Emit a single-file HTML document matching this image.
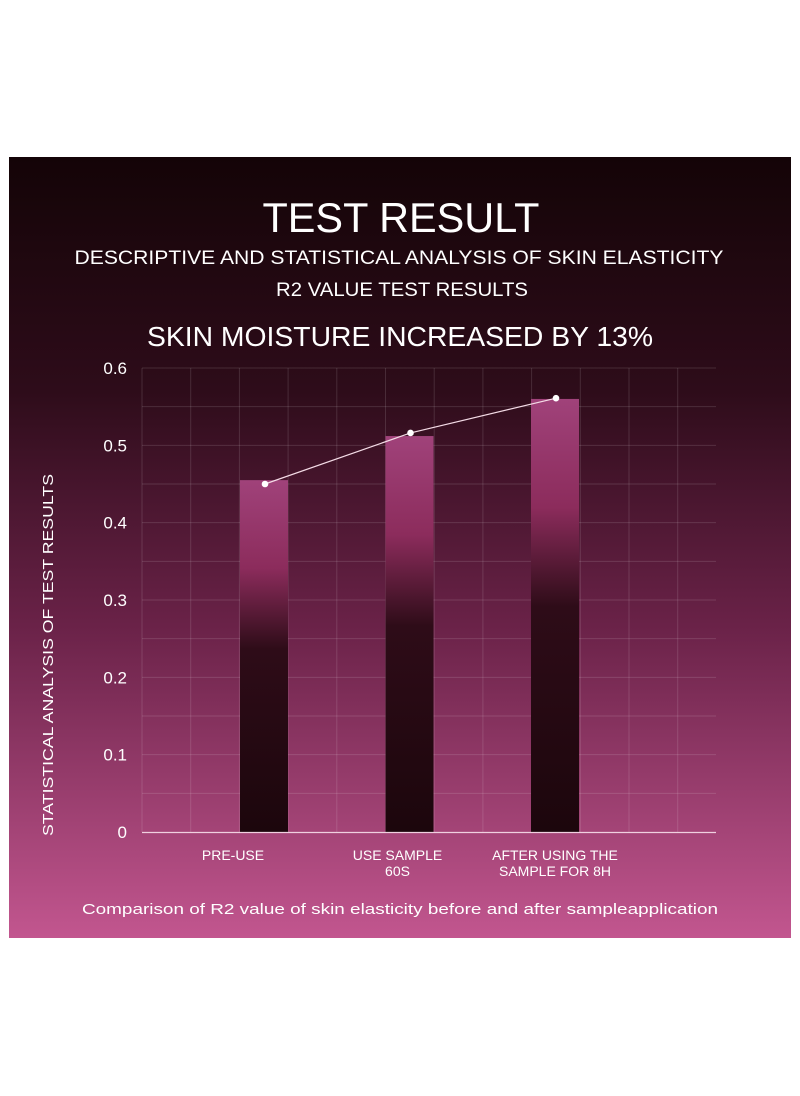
<!DOCTYPE html>
<html><head><meta charset="utf-8"><style>
html,body{margin:0;padding:0;background:#fff;width:800px;height:1096px;overflow:hidden}
svg{display:block;font-family:"Liberation Sans",sans-serif}
</style></head><body>
<svg id="chart" width="800" height="1096" viewBox="0 0 800 1096" xmlns="http://www.w3.org/2000/svg">
<defs>
<linearGradient id="bg" x1="0" y1="0" x2="0" y2="1">
<stop offset="0" stop-color="#140407"/><stop offset="0.3" stop-color="#2e0c1a"/><stop offset="0.6" stop-color="#6a2248"/><stop offset="1" stop-color="#c2568f"/>
</linearGradient>
<linearGradient id="barg" x1="0" y1="0" x2="0" y2="1">
<stop offset="0" stop-color="#a0427a"/><stop offset="0.25" stop-color="#8c2c5c"/><stop offset="0.48" stop-color="#2e0c18"/><stop offset="1" stop-color="#1c060c"/>
</linearGradient>
</defs>
<rect x="9" y="157" width="782" height="781" fill="url(#bg)"/>
<g fill="#fff">
<text x="401" y="232" font-size="42" text-anchor="middle" textLength="277" lengthAdjust="spacingAndGlyphs">TEST RESULT</text>
<text x="399" y="264" font-size="19" text-anchor="middle" textLength="649" lengthAdjust="spacingAndGlyphs">DESCRIPTIVE AND STATISTICAL ANALYSIS OF SKIN ELASTICITY</text>
<text x="402" y="296" font-size="19" text-anchor="middle" textLength="252" lengthAdjust="spacingAndGlyphs">R2 VALUE TEST RESULTS</text>
<text x="400" y="346" font-size="28" text-anchor="middle" textLength="506" lengthAdjust="spacingAndGlyphs">SKIN MOISTURE INCREASED BY 13%</text>
<text transform="translate(53,655) rotate(-90)" font-size="15" text-anchor="middle" textLength="362" lengthAdjust="spacingAndGlyphs">STATISTICAL ANALYSIS OF TEST RESULTS</text>
<text x="400" y="914" font-size="15" text-anchor="middle" textLength="636" lengthAdjust="spacingAndGlyphs">Comparison of R2 value of skin elasticity before and after sampleapplication</text>
</g>
<g id="grid"></g>
<g id="bars"></g>
<g id="axes"></g>
<g id="line"></g>
</svg>
<script>
const categories = [["PRE-USE"], ["USE SAMPLE", "60S"], ["AFTER USING THE", "SAMPLE FOR 8H"]];
const barValues = [0.455, 0.512, 0.56];
const pointValues = [0.45, 0.516, 0.561];
const yTicks = [0, 0.1, 0.2, 0.3, 0.4, 0.5, 0.6];
const yTickLabels = ["0", "0.1", "0.2", "0.3", "0.4", "0.5", "0.6"];
const NS = "http://www.w3.org/2000/svg";
const x0 = 142, x1 = 716, yBase = 832, yTop = 368, yMax = 0.6;
const gridStep = 48.7;
function y(v){ return yBase - v / yMax * (yBase - yTop); }
const slotX = i => 264 + i * 145.5;
const barW = 48;
function mk(tag, attrs, parent){ const e = document.createElementNS(NS, tag); for (const k in attrs) e.setAttribute(k, attrs[k]); parent.appendChild(e); return e; }
const grid = document.getElementById('grid');
for (let gx = x0; gx <= 690; gx += gridStep) {
  const l = mk('line', {x1: gx, x2: gx, y1: yTop, y2: yBase, stroke: '#ffffff', 'stroke-opacity': 0.13, 'stroke-width': 1}, grid);
  
  
}
for (let v = 0.05; v <= yMax + 1e-9; v += 0.05) {
  const l = mk('line', {x1: x0, x2: x1, y1: y(v), y2: y(v), stroke: '#ffffff', 'stroke-opacity': 0.13, 'stroke-width': 1}, grid);
  
  
}
const bars = document.getElementById('bars');
barValues.forEach((v, i) => {
  const r = mk('rect', {x: slotX(i) - barW / 2, y: y(v), width: barW, height: yBase - y(v), fill: 'url(#barg)'}, bars);
  
  
});
const axes = document.getElementById('axes');
const ax = mk('line', {x1: x0, x2: x1, y1: yBase + 0.5, y2: yBase + 0.5, stroke: '#f0d0e0', 'stroke-width': 1.2}, axes);


yTicks.forEach((v, i) => {
  const t = mk('text', {x: 127, y: y(v) + 6, 'font-size': 17, fill: '#fff', 'text-anchor': 'end'}, axes);
  t.textContent = yTickLabels[i];
  
  
});
categories.forEach((lines, i) => {
  lines.forEach((s, j) => {
    const t = mk('text', {x: slotX(i) - 16 + (i === 2 ? 16 : i === 1 ? 4 : -15), y: 860 + j * 16, 'font-size': 14, fill: '#fff', 'text-anchor': 'middle'}, axes);
    t.textContent = s;
    
    
  });
});
const lg = document.getElementById('line');
const pts = pointValues.map((v, i) => [slotX(i) + 1, y(v)]);
const pl = mk('polyline', {points: pts.map(p => p.join(',')).join(' '), fill: 'none', stroke: '#f4dbe6', 'stroke-width': 1.2}, lg);


pts.forEach(p => {
  const c = mk('circle', {cx: p[0], cy: p[1], r: 3.3, fill: '#fff'}, lg);
  
  
});
</script>
</body></html>
